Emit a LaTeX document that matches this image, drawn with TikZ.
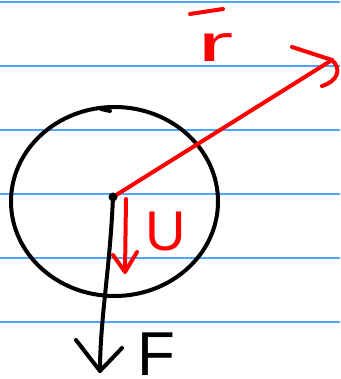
\documentclass[tikz,border=0pt]{standalone}
\usepackage{fontspec}
\setmainfont{Liberation Sans}
\usetikzlibrary{shapes.geometric}
\definecolor{rulecol}{RGB}{80,165,255}
\definecolor{inkred}{RGB}{255,0,0}
\begin{document}
\begin{tikzpicture}[x=1pt,y=1pt,
  rule/.style={draw=rulecol,line width=1.2pt},
  ink/.style={line width=4pt,line cap=round,line join=round},
  redink/.style={ink,draw=inkred},
  blackink/.style={ink,draw=black},
  lbl/.style={inner sep=0pt,anchor=base}]
\useasboundingbox (0,0) rectangle (340,379);
% ruled lines
\foreach \y in {2,66,130,194,258,322}
  \draw[rule] (0,379-\y) -- (340,379-\y);
% circle
\node[blackink,draw,ellipse,minimum width=207pt,minimum height=189pt,inner sep=0pt] (C) at (114.5,177.5) {};
\draw[blackink] (101,270) -- (110,268);
% points
\coordinate (O) at (113,182);
\coordinate (R) at (332,319);
\coordinate (Us) at (126,180);
\coordinate (Ue) at (125,107);
\coordinate (Fe) at (100,8);
% r vector
\draw[redink] (O) -- (R);
\draw[redink] (292,332) -- (R) .. controls (342,310) and (338,298) .. (322,293);
\node[lbl,text=inkred,xscale=2.1,font=\fontsize{52}{52}\selectfont] (r) at (216,317) {r};
\draw[redink] (190,365) -- (223,370);
% U vector
\draw[redink] (Us) -- (Ue);
\draw[redink] (113,124) -- (Ue) -- (137,127);
\node[lbl,text=inkred,font=\fontsize{56}{56}\selectfont] (U) at (166,128) {U};
% F vector
\draw[blackink] (O) .. controls (110,110) and (100,60) .. (Fe);
\draw[blackink] (76,39) -- (Fe) -- (122,31);
\node[lbl,text=black,font=\fontsize{62}{62}\selectfont] (F) at (156,4) {F};
% dot
\fill (O) circle (4.5);
\end{tikzpicture}
\end{document}
